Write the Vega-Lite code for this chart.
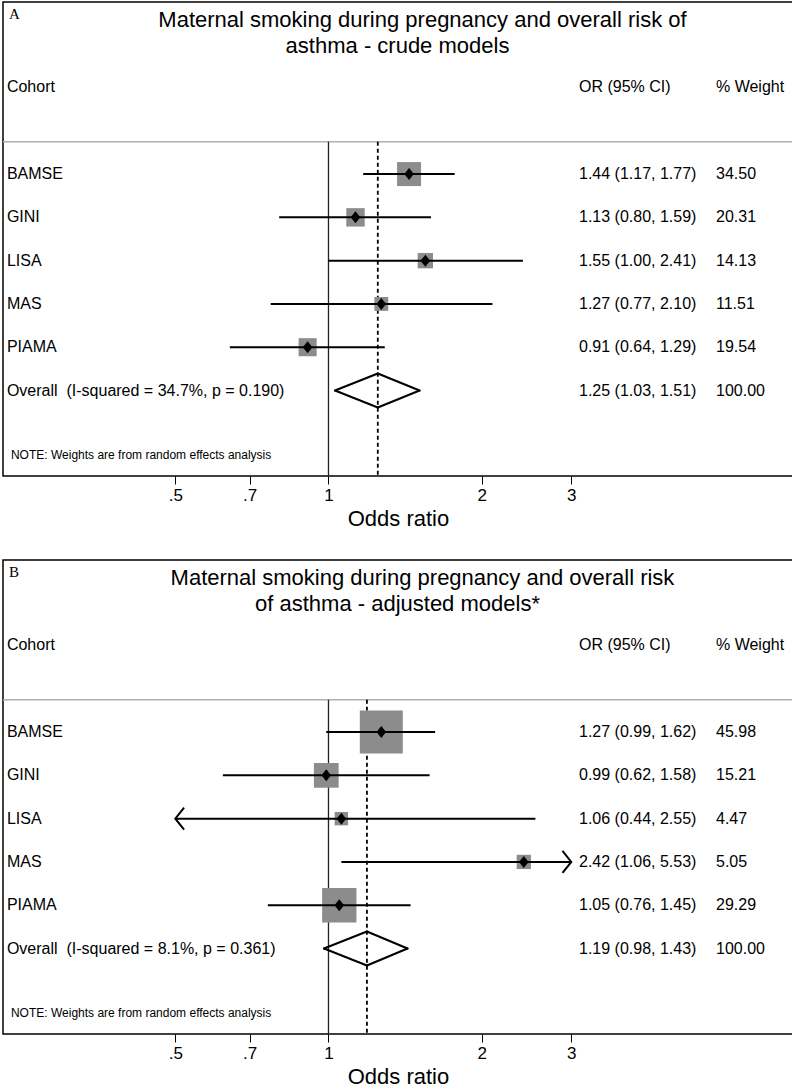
{
"$schema": "https://vega.github.io/schema/vega-lite/v6.json",
"background": "white",
"padding": {"top": 1, "left": 1, "right": 1, "bottom": 0},
"spacing": 29,
"resolve": {"scale": {"x": "independent", "y": "independent", "size": "independent"}},
"config": {"font": "Liberation Sans", "view": {"stroke": "#000", "strokeWidth": 1.5}, "text": {"font": "Liberation Sans", "color": "#000"}},
"vconcat": [
{
"width": 790, "height": 474,
"data": {"values": [
{"cohort": "BAMSE", "label": "BAMSE", "type": "study", "or": 1.44, "lo": 1.17, "hi": 1.77, "ortext": "1.44 (1.17, 1.77)", "weight": 34.50},
{"cohort": "GINI", "label": "GINI", "type": "study", "or": 1.13, "lo": 0.80, "hi": 1.59, "ortext": "1.13 (0.80, 1.59)", "weight": 20.31},
{"cohort": "LISA", "label": "LISA", "type": "study", "or": 1.55, "lo": 1.00, "hi": 2.41, "ortext": "1.55 (1.00, 2.41)", "weight": 14.13},
{"cohort": "MAS", "label": "MAS", "type": "study", "or": 1.27, "lo": 0.77, "hi": 2.10, "ortext": "1.27 (0.77, 2.10)", "weight": 11.51},
{"cohort": "PIAMA", "label": "PIAMA", "type": "study", "or": 0.91, "lo": 0.64, "hi": 1.29, "ortext": "0.91 (0.64, 1.29)", "weight": 19.54},
{"cohort": "Overall", "label": "Overall\u00a0 (I-squared = 34.7%, p = 0.190)", "type": "overall", "or": 1.25, "lo": 1.03, "hi": 1.51, "ortext": "1.25 (1.03, 1.51)", "weight": 100.00}
]},
"resolve": {"scale": {"x": "independent"}},
"layer": [
{"data": {"values": [{}]}, "mark": {"type": "rule", "color": "#b0b0b0", "strokeWidth": 1.5},
 "encoding": {"y": {"datum": "sep", "type": "nominal", "bandPosition": 0.753, "scale": {"type": "band", "domain": ["title","Cohort","sep","BAMSE","GINI","LISA","MAS","PIAMA","Overall","NOTE"], "paddingInner": 0, "paddingOuter": 0.475}, "axis": null}}},
{"data": {"values": [{}]}, "mark": {"type": "rule", "color": "#222", "strokeWidth": 1.3},
 "encoding": {"x": {"datum": 1, "type": "quantitative", "scale": {"type": "log", "domain": [0.2293, 8.181], "nice": false},
   "axis": {"values": [0.5, 0.7, 1, 2, 3], "labelExpr": "datum.value < 1 ? replace(toString(datum.value), '0.', '.') : toString(datum.value)", "title": "Odds ratio", "titleFontSize": 22, "titleFont": "Liberation Sans", "titleFontWeight": "normal", "titleColor": "#000", "labelFontSize": 17, "labelFont": "Liberation Sans", "labelColor": "#000", "tickColor": "#000", "tickSize": 8, "tickWidth": 1, "domain": false, "grid": false, "labelPadding": 3, "titlePadding": 5, "labelFlush": false}},
  "y": {"datum": "sep", "type": "nominal", "bandPosition": 0.753, "axis": null},
  "y2": {"datum": "NOTE", "bandPosition": 1.47}}},
{"transform": [{"filter": "datum.type == 'overall'"}], "mark": {"type": "rule", "color": "#000", "strokeWidth": 1.8, "strokeDash": [4, 3]},
 "encoding": {"x": {"field": "or", "type": "quantitative", "scale": {"type": "log", "domain": [0.2293, 8.181], "nice": false}, "axis": null},
  "y": {"datum": "sep", "type": "nominal", "bandPosition": 0.753, "axis": null},
  "y2": {"datum": "NOTE", "bandPosition": 1.47}}},
{"transform": [{"filter": "datum.type == 'study'"}], "mark": {"type": "square", "color": "#8c8c8c", "opacity": 1},
 "encoding": {"x": {"field": "or", "type": "quantitative", "scale": {"type": "log", "domain": [0.2293, 8.181], "nice": false}, "axis": null},
  "y": {"field": "cohort", "type": "nominal", "axis": null},
  "size": {"field": "weight", "type": "quantitative", "scale": {"type": "linear", "domain": [0, 34.5], "range": [0, 576]}, "legend": null}}},
{"transform": [{"filter": "datum.type == 'study'"}], "mark": {"type": "rule", "color": "#000", "strokeWidth": 2},
 "encoding": {"x": {"field": "lo", "type": "quantitative", "scale": {"type": "log", "domain": [0.5, 3], "range": [172.3, 568.3], "clamp": true, "nice": false}, "axis": null},
  "x2": {"field": "hi"},
  "y": {"field": "cohort", "type": "nominal", "axis": null}}},
{"transform": [{"filter": "datum.type == 'study' && datum.lo < 0.5"}], "mark": {"type": "point", "shape": "M 0.8 -1 L 0 0 L 0.8 1", "filled": false, "stroke": "#000", "strokeWidth": 2, "size": 484, "opacity": 1},
 "encoding": {"x": {"datum": 0.5, "type": "quantitative", "scale": {"type": "log", "domain": [0.2293, 8.181], "nice": false}, "axis": null},
  "y": {"field": "cohort", "type": "nominal", "axis": null}}},
{"transform": [{"filter": "datum.type == 'study' && datum.hi > 3"}], "mark": {"type": "point", "shape": "M -0.8 -1 L 0 0 L -0.8 1", "filled": false, "stroke": "#000", "strokeWidth": 2, "size": 484, "opacity": 1},
 "encoding": {"x": {"datum": 3, "type": "quantitative", "scale": {"type": "log", "domain": [0.2293, 8.181], "nice": false}, "axis": null},
  "y": {"field": "cohort", "type": "nominal", "axis": null}}},
{"transform": [{"filter": "datum.type == 'study'"}], "mark": {"type": "point", "shape": "M -0.8 0 L 0 -1 L 0.8 0 L 0 1 Z", "filled": true, "color": "#000", "size": 144, "opacity": 1},
 "encoding": {"x": {"field": "or", "type": "quantitative", "scale": {"type": "log", "domain": [0.2293, 8.181], "nice": false}, "axis": null},
  "y": {"field": "cohort", "type": "nominal", "axis": null}}},
{"transform": [{"filter": "datum.type == 'overall'"}], "mark": {"type": "rule", "color": "#000", "strokeWidth": 2, "strokeCap": "round"},
 "encoding": {"x": {"field": "lo", "type": "quantitative", "scale": {"type": "log", "domain": [0.2293, 8.181], "nice": false}, "axis": null}, "x2": {"field": "or"},
  "y": {"field": "cohort", "type": "nominal", "bandPosition": 0.5, "axis": null}, "y2": {"field": "cohort", "bandPosition": 0.107}}},
{"transform": [{"filter": "datum.type == 'overall'"}], "mark": {"type": "rule", "color": "#000", "strokeWidth": 2, "strokeCap": "round"},
 "encoding": {"x": {"field": "or", "type": "quantitative", "scale": {"type": "log", "domain": [0.2293, 8.181], "nice": false}, "axis": null}, "x2": {"field": "hi"},
  "y": {"field": "cohort", "type": "nominal", "bandPosition": 0.107, "axis": null}, "y2": {"field": "cohort", "bandPosition": 0.5}}},
{"transform": [{"filter": "datum.type == 'overall'"}], "mark": {"type": "rule", "color": "#000", "strokeWidth": 2, "strokeCap": "round"},
 "encoding": {"x": {"field": "lo", "type": "quantitative", "scale": {"type": "log", "domain": [0.2293, 8.181], "nice": false}, "axis": null}, "x2": {"field": "or"},
  "y": {"field": "cohort", "type": "nominal", "bandPosition": 0.5, "axis": null}, "y2": {"field": "cohort", "bandPosition": 0.893}}},
{"transform": [{"filter": "datum.type == 'overall'"}], "mark": {"type": "rule", "color": "#000", "strokeWidth": 2, "strokeCap": "round"},
 "encoding": {"x": {"field": "or", "type": "quantitative", "scale": {"type": "log", "domain": [0.2293, 8.181], "nice": false}, "axis": null}, "x2": {"field": "hi"},
  "y": {"field": "cohort", "type": "nominal", "bandPosition": 0.893, "axis": null}, "y2": {"field": "cohort", "bandPosition": 0.5}}},
{"mark": {"type": "text", "align": "left", "baseline": "middle", "fontSize": 16},
 "encoding": {"x": {"datum": 0.2334, "type": "quantitative", "scale": {"type": "log", "domain": [0.2293, 8.181], "nice": false}, "axis": null},
  "y": {"field": "cohort", "type": "nominal", "axis": null}, "text": {"field": "label"}}},
{"mark": {"type": "text", "align": "left", "baseline": "middle", "fontSize": 16},
 "encoding": {"x": {"datum": 3.1064, "type": "quantitative", "scale": {"type": "log", "domain": [0.2293, 8.181], "nice": false}, "axis": null},
  "y": {"field": "cohort", "type": "nominal", "axis": null}, "text": {"field": "ortext"}}},
{"mark": {"type": "text", "align": "left", "baseline": "middle", "fontSize": 16},
 "encoding": {"x": {"datum": 5.774, "type": "quantitative", "scale": {"type": "log", "domain": [0.2293, 8.181], "nice": false}, "axis": null},
  "y": {"field": "cohort", "type": "nominal", "axis": null}, "text": {"field": "weight", "type": "quantitative", "format": ".2f"}}},
{"data": {"values": [{}]}, "mark": {"type": "text", "align": "left", "baseline": "middle", "fontSize": 16, "text": "Cohort"},
 "encoding": {"x": {"datum": 0.2334, "type": "quantitative", "scale": {"type": "log", "domain": [0.2293, 8.181], "nice": false}, "axis": null},
  "y": {"datum": "Cohort", "type": "nominal", "axis": null}}},
{"data": {"values": [{}]}, "mark": {"type": "text", "align": "left", "baseline": "middle", "fontSize": 16, "text": "OR (95% CI)"},
 "encoding": {"x": {"datum": 3.1064, "type": "quantitative", "scale": {"type": "log", "domain": [0.2293, 8.181], "nice": false}, "axis": null},
  "y": {"datum": "Cohort", "type": "nominal", "axis": null}}},
{"data": {"values": [{}]}, "mark": {"type": "text", "align": "left", "baseline": "middle", "fontSize": 16, "text": "% Weight"},
 "encoding": {"x": {"datum": 5.774, "type": "quantitative", "scale": {"type": "log", "domain": [0.2293, 8.181], "nice": false}, "axis": null},
  "y": {"datum": "Cohort", "type": "nominal", "axis": null}}},
{"data": {"values": [{}]}, "mark": {"type": "text", "align": "center", "baseline": "middle", "fontSize": 22, "text": "Maternal smoking during pregnancy and overall risk of"},
 "encoding": {"x": {"datum": 1.530, "type": "quantitative", "scale": {"type": "log", "domain": [0.2293, 8.181], "nice": false}, "axis": null},
  "y": {"datum": "title", "type": "nominal", "bandPosition": -0.07, "axis": null}}},
{"data": {"values": [{}]}, "mark": {"type": "text", "align": "center", "baseline": "middle", "fontSize": 22, "text": "asthma - crude models"},
 "encoding": {"x": {"datum": 1.3665, "type": "quantitative", "scale": {"type": "log", "domain": [0.2293, 8.181], "nice": false}, "axis": null},
  "y": {"datum": "title", "type": "nominal", "bandPosition": 0.53, "axis": null}}},
{"data": {"values": [{}]}, "mark": {"type": "text", "align": "left", "baseline": "middle", "fontSize": 15, "font": "Liberation Serif", "text": "A"},
 "encoding": {"x": {"datum": 0.2356, "type": "quantitative", "scale": {"type": "log", "domain": [0.2293, 8.181], "nice": false}, "axis": null},
  "y": {"datum": "title", "type": "nominal", "bandPosition": -0.2, "axis": null}}},
{"data": {"values": [{}]}, "mark": {"type": "text", "align": "left", "baseline": "middle", "fontSize": 12, "text": "NOTE: Weights are from random effects analysis"},
 "encoding": {"x": {"datum": 0.2377, "type": "quantitative", "scale": {"type": "log", "domain": [0.2293, 8.181], "nice": false}, "axis": null},
  "y": {"datum": "NOTE", "type": "nominal", "bandPosition": 0.99, "axis": null}}}
]
},
{
"width": 790, "height": 474,
"data": {"values": [
{"cohort": "BAMSE", "label": "BAMSE", "type": "study", "or": 1.27, "lo": 0.99, "hi": 1.62, "ortext": "1.27 (0.99, 1.62)", "weight": 45.98},
{"cohort": "GINI", "label": "GINI", "type": "study", "or": 0.99, "lo": 0.62, "hi": 1.58, "ortext": "0.99 (0.62, 1.58)", "weight": 15.21},
{"cohort": "LISA", "label": "LISA", "type": "study", "or": 1.06, "lo": 0.44, "hi": 2.55, "ortext": "1.06 (0.44, 2.55)", "weight": 4.47},
{"cohort": "MAS", "label": "MAS", "type": "study", "or": 2.42, "lo": 1.06, "hi": 5.53, "ortext": "2.42 (1.06, 5.53)", "weight": 5.05},
{"cohort": "PIAMA", "label": "PIAMA", "type": "study", "or": 1.05, "lo": 0.76, "hi": 1.45, "ortext": "1.05 (0.76, 1.45)", "weight": 29.29},
{"cohort": "Overall", "label": "Overall\u00a0 (I-squared = 8.1%, p = 0.361)", "type": "overall", "or": 1.19, "lo": 0.98, "hi": 1.43, "ortext": "1.19 (0.98, 1.43)", "weight": 100.00}
]},
"resolve": {"scale": {"x": "independent"}},
"layer": [
{"data": {"values": [{}]}, "mark": {"type": "rule", "color": "#b0b0b0", "strokeWidth": 1.5},
 "encoding": {"y": {"datum": "sep", "type": "nominal", "bandPosition": 0.753, "scale": {"type": "band", "domain": ["title","Cohort","sep","BAMSE","GINI","LISA","MAS","PIAMA","Overall","NOTE"], "paddingInner": 0, "paddingOuter": 0.475}, "axis": null}}},
{"data": {"values": [{}]}, "mark": {"type": "rule", "color": "#222", "strokeWidth": 1.3},
 "encoding": {"x": {"datum": 1, "type": "quantitative", "scale": {"type": "log", "domain": [0.2293, 8.181], "nice": false},
   "axis": {"values": [0.5, 0.7, 1, 2, 3], "labelExpr": "datum.value < 1 ? replace(toString(datum.value), '0.', '.') : toString(datum.value)", "title": "Odds ratio", "titleFontSize": 22, "titleFont": "Liberation Sans", "titleFontWeight": "normal", "titleColor": "#000", "labelFontSize": 17, "labelFont": "Liberation Sans", "labelColor": "#000", "tickColor": "#000", "tickSize": 8, "tickWidth": 1, "domain": false, "grid": false, "labelPadding": 3, "titlePadding": 5, "labelFlush": false}},
  "y": {"datum": "sep", "type": "nominal", "bandPosition": 0.753, "axis": null},
  "y2": {"datum": "NOTE", "bandPosition": 1.47}}},
{"transform": [{"filter": "datum.type == 'overall'"}], "mark": {"type": "rule", "color": "#000", "strokeWidth": 1.8, "strokeDash": [4, 3]},
 "encoding": {"x": {"field": "or", "type": "quantitative", "scale": {"type": "log", "domain": [0.2293, 8.181], "nice": false}, "axis": null},
  "y": {"datum": "sep", "type": "nominal", "bandPosition": 0.753, "axis": null},
  "y2": {"datum": "NOTE", "bandPosition": 1.47}}},
{"transform": [{"filter": "datum.type == 'study'"}], "mark": {"type": "square", "color": "#8c8c8c", "opacity": 1},
 "encoding": {"x": {"field": "or", "type": "quantitative", "scale": {"type": "log", "domain": [0.2293, 8.181], "nice": false}, "axis": null},
  "y": {"field": "cohort", "type": "nominal", "axis": null},
  "size": {"field": "weight", "type": "quantitative", "scale": {"type": "linear", "domain": [0, 45.98], "range": [0, 1849]}, "legend": null}}},
{"transform": [{"filter": "datum.type == 'study'"}], "mark": {"type": "rule", "color": "#000", "strokeWidth": 2},
 "encoding": {"x": {"field": "lo", "type": "quantitative", "scale": {"type": "log", "domain": [0.5, 3], "range": [172.3, 568.3], "clamp": true, "nice": false}, "axis": null},
  "x2": {"field": "hi"},
  "y": {"field": "cohort", "type": "nominal", "axis": null}}},
{"transform": [{"filter": "datum.type == 'study' && datum.lo < 0.5"}], "mark": {"type": "point", "shape": "M 0.8 -1 L 0 0 L 0.8 1", "filled": false, "stroke": "#000", "strokeWidth": 2, "size": 484, "opacity": 1},
 "encoding": {"x": {"datum": 0.5, "type": "quantitative", "scale": {"type": "log", "domain": [0.2293, 8.181], "nice": false}, "axis": null},
  "y": {"field": "cohort", "type": "nominal", "axis": null}}},
{"transform": [{"filter": "datum.type == 'study' && datum.hi > 3"}], "mark": {"type": "point", "shape": "M -0.8 -1 L 0 0 L -0.8 1", "filled": false, "stroke": "#000", "strokeWidth": 2, "size": 484, "opacity": 1},
 "encoding": {"x": {"datum": 3, "type": "quantitative", "scale": {"type": "log", "domain": [0.2293, 8.181], "nice": false}, "axis": null},
  "y": {"field": "cohort", "type": "nominal", "axis": null}}},
{"transform": [{"filter": "datum.type == 'study'"}], "mark": {"type": "point", "shape": "M -0.8 0 L 0 -1 L 0.8 0 L 0 1 Z", "filled": true, "color": "#000", "size": 144, "opacity": 1},
 "encoding": {"x": {"field": "or", "type": "quantitative", "scale": {"type": "log", "domain": [0.2293, 8.181], "nice": false}, "axis": null},
  "y": {"field": "cohort", "type": "nominal", "axis": null}}},
{"transform": [{"filter": "datum.type == 'overall'"}], "mark": {"type": "rule", "color": "#000", "strokeWidth": 2, "strokeCap": "round"},
 "encoding": {"x": {"field": "lo", "type": "quantitative", "scale": {"type": "log", "domain": [0.2293, 8.181], "nice": false}, "axis": null}, "x2": {"field": "or"},
  "y": {"field": "cohort", "type": "nominal", "bandPosition": 0.5, "axis": null}, "y2": {"field": "cohort", "bandPosition": 0.107}}},
{"transform": [{"filter": "datum.type == 'overall'"}], "mark": {"type": "rule", "color": "#000", "strokeWidth": 2, "strokeCap": "round"},
 "encoding": {"x": {"field": "or", "type": "quantitative", "scale": {"type": "log", "domain": [0.2293, 8.181], "nice": false}, "axis": null}, "x2": {"field": "hi"},
  "y": {"field": "cohort", "type": "nominal", "bandPosition": 0.107, "axis": null}, "y2": {"field": "cohort", "bandPosition": 0.5}}},
{"transform": [{"filter": "datum.type == 'overall'"}], "mark": {"type": "rule", "color": "#000", "strokeWidth": 2, "strokeCap": "round"},
 "encoding": {"x": {"field": "lo", "type": "quantitative", "scale": {"type": "log", "domain": [0.2293, 8.181], "nice": false}, "axis": null}, "x2": {"field": "or"},
  "y": {"field": "cohort", "type": "nominal", "bandPosition": 0.5, "axis": null}, "y2": {"field": "cohort", "bandPosition": 0.893}}},
{"transform": [{"filter": "datum.type == 'overall'"}], "mark": {"type": "rule", "color": "#000", "strokeWidth": 2, "strokeCap": "round"},
 "encoding": {"x": {"field": "or", "type": "quantitative", "scale": {"type": "log", "domain": [0.2293, 8.181], "nice": false}, "axis": null}, "x2": {"field": "hi"},
  "y": {"field": "cohort", "type": "nominal", "bandPosition": 0.893, "axis": null}, "y2": {"field": "cohort", "bandPosition": 0.5}}},
{"mark": {"type": "text", "align": "left", "baseline": "middle", "fontSize": 16},
 "encoding": {"x": {"datum": 0.2334, "type": "quantitative", "scale": {"type": "log", "domain": [0.2293, 8.181], "nice": false}, "axis": null},
  "y": {"field": "cohort", "type": "nominal", "axis": null}, "text": {"field": "label"}}},
{"mark": {"type": "text", "align": "left", "baseline": "middle", "fontSize": 16},
 "encoding": {"x": {"datum": 3.1064, "type": "quantitative", "scale": {"type": "log", "domain": [0.2293, 8.181], "nice": false}, "axis": null},
  "y": {"field": "cohort", "type": "nominal", "axis": null}, "text": {"field": "ortext"}}},
{"mark": {"type": "text", "align": "left", "baseline": "middle", "fontSize": 16},
 "encoding": {"x": {"datum": 5.774, "type": "quantitative", "scale": {"type": "log", "domain": [0.2293, 8.181], "nice": false}, "axis": null},
  "y": {"field": "cohort", "type": "nominal", "axis": null}, "text": {"field": "weight", "type": "quantitative", "format": ".2f"}}},
{"data": {"values": [{}]}, "mark": {"type": "text", "align": "left", "baseline": "middle", "fontSize": 16, "text": "Cohort"},
 "encoding": {"x": {"datum": 0.2334, "type": "quantitative", "scale": {"type": "log", "domain": [0.2293, 8.181], "nice": false}, "axis": null},
  "y": {"datum": "Cohort", "type": "nominal", "axis": null}}},
{"data": {"values": [{}]}, "mark": {"type": "text", "align": "left", "baseline": "middle", "fontSize": 16, "text": "OR (95% CI)"},
 "encoding": {"x": {"datum": 3.1064, "type": "quantitative", "scale": {"type": "log", "domain": [0.2293, 8.181], "nice": false}, "axis": null},
  "y": {"datum": "Cohort", "type": "nominal", "axis": null}}},
{"data": {"values": [{}]}, "mark": {"type": "text", "align": "left", "baseline": "middle", "fontSize": 16, "text": "% Weight"},
 "encoding": {"x": {"datum": 5.774, "type": "quantitative", "scale": {"type": "log", "domain": [0.2293, 8.181], "nice": false}, "axis": null},
  "y": {"datum": "Cohort", "type": "nominal", "axis": null}}},
{"data": {"values": [{}]}, "mark": {"type": "text", "align": "center", "baseline": "middle", "fontSize": 22, "text": "Maternal smoking during pregnancy and overall risk"},
 "encoding": {"x": {"datum": 1.530, "type": "quantitative", "scale": {"type": "log", "domain": [0.2293, 8.181], "nice": false}, "axis": null},
  "y": {"datum": "title", "type": "nominal", "bandPosition": -0.07, "axis": null}}},
{"data": {"values": [{}]}, "mark": {"type": "text", "align": "center", "baseline": "middle", "fontSize": 22, "text": "of asthma - adjusted models*"},
 "encoding": {"x": {"datum": 1.3665, "type": "quantitative", "scale": {"type": "log", "domain": [0.2293, 8.181], "nice": false}, "axis": null},
  "y": {"datum": "title", "type": "nominal", "bandPosition": 0.53, "axis": null}}},
{"data": {"values": [{}]}, "mark": {"type": "text", "align": "left", "baseline": "middle", "fontSize": 15, "font": "Liberation Serif", "text": "B"},
 "encoding": {"x": {"datum": 0.2356, "type": "quantitative", "scale": {"type": "log", "domain": [0.2293, 8.181], "nice": false}, "axis": null},
  "y": {"datum": "title", "type": "nominal", "bandPosition": -0.2, "axis": null}}},
{"data": {"values": [{}]}, "mark": {"type": "text", "align": "left", "baseline": "middle", "fontSize": 12, "text": "NOTE: Weights are from random effects analysis"},
 "encoding": {"x": {"datum": 0.2377, "type": "quantitative", "scale": {"type": "log", "domain": [0.2293, 8.181], "nice": false}, "axis": null},
  "y": {"datum": "NOTE", "type": "nominal", "bandPosition": 0.99, "axis": null}}}
]
}
]
}
